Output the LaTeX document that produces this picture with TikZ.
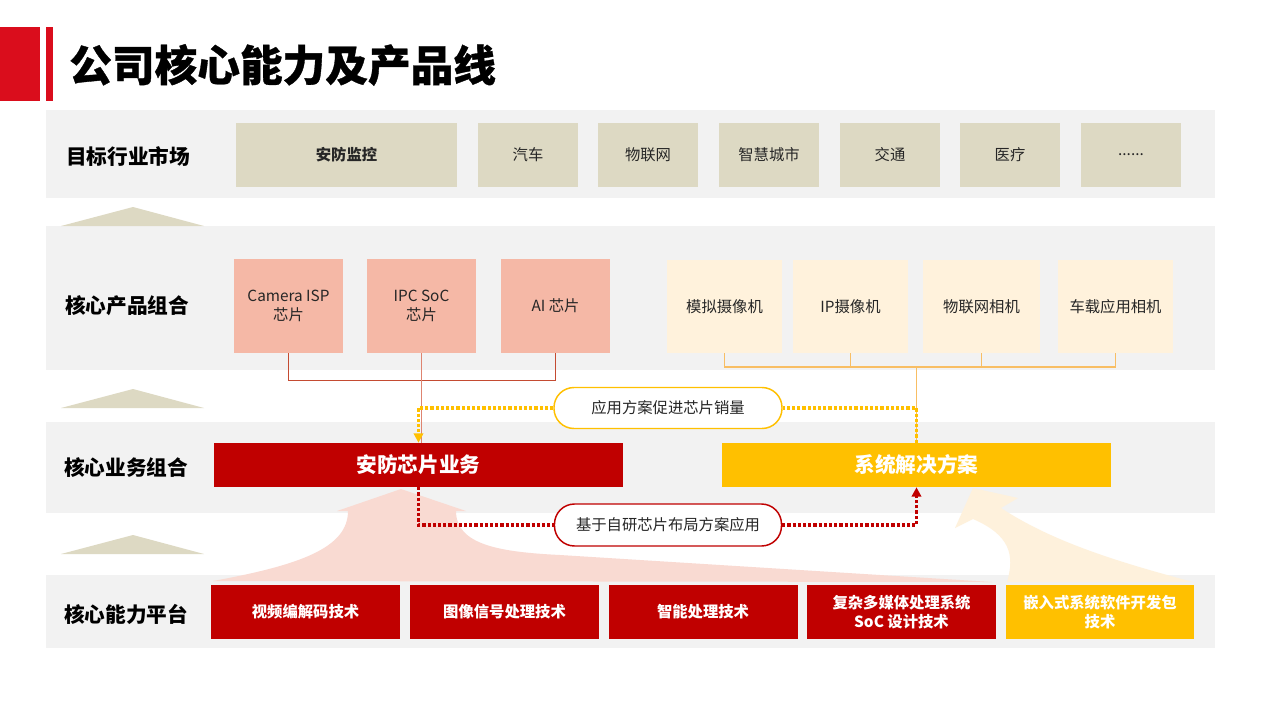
\documentclass[tikz,border=0pt]{standalone}
\usepackage{fontspec}
\setmainfont{Noto Sans CJK SC}
\newfontfamily\heavyfont{Noto Sans CJK SC}[BoldFeatures = {FakeBold = 0.8}]
\usetikzlibrary{arrows.meta}
\definecolor{titlered}{RGB}{218,13,28}
\definecolor{bandgray}{RGB}{242,242,242}
\definecolor{tan}{RGB}{221,217,195}
\definecolor{chippink}{RGB}{245,184,166}
\definecolor{camcream}{RGB}{255,242,220}
\definecolor{darkred}{RGB}{192,0,0}
\definecolor{gold}{RGB}{255,192,0}
\definecolor{txtdark}{RGB}{38,38,38}
\definecolor{chipred}{RGB}{196,75,50}
\definecolor{chipred2}{RGB}{222,132,112}
\definecolor{camorange}{RGB}{248,190,100}
\definecolor{pinkflow}{RGB}{249,218,210}
\definecolor{creamflow}{RGB}{254,241,220}
\tikzset{
	wh/.style 2 args = {minimum width = #1*0.75pt, minimum height = #2*0.75pt},
	mkt/.style = {fill = tan, text = txtdark, inner sep = 0, font = \fontsize{11.5}{14}\selectfont},
	chip/.style = {fill = chippink, text = txtdark, inner sep = 0, align = center, font = \fontsize{11.5}{14.5}\selectfont},
	cam/.style = {fill = camcream, text = txtdark, inner sep = 0, font = \fontsize{11.5}{14}\selectfont},
	biz/.style = {inner sep = 0, text = white, font = \bfseries\fontsize{15.5}{18}\selectfont},
	tech/.style = {inner sep = 0, text = white, align = center, font = \bfseries\fontsize{11.5}{14}\selectfont},
	lbl/.style = {anchor = west, inner sep = 0, font = \bfseries\fontsize{15.5}{18}\selectfont},
	pill/.style = {fill = white, rounded corners = 15pt, line width = 1.1pt, inner sep = 0, text = txtdark, font = \fontsize{11.5}{14}\selectfont},
	dotline/.style = {line width = 2.4pt, dash pattern = on 2.4pt off 1.5pt},
	headtip/.style = {-{Triangle[width = 7pt, length = 7pt]}},
}
\begin{document}
\begin{tikzpicture}[x = 0.75pt, y = -0.75pt]
	\useasboundingbox [fill = white] (0,0) rectangle (1279,719);
	\fill [titlered] (0,27) rectangle (40,101);
	\fill [titlered] (46,27) rectangle (53,101);
	\node [anchor = west, inner sep = 0, font = \heavyfont\bfseries\fontsize{32}{36}\selectfont] (title) at (69,65) {公司核心能力及产品线};
	\foreach \y/\h in {110/198, 226/370, 422/513, 575/648}
	\fill [bandgray] (46,\y) rectangle (1215,\h);
	\foreach \y in {207, 389, 535}
	\fill [tan] (61,\y+19) -- (133,\y) -- (204,\y+19) -- cycle;
	\fill [pinkflow] (213,581) .. controls (300,565) and (348,548) .. (348,511) -- (337,511) -- (401,489) -- (466,511) -- (456,511) .. controls (456,545) and (500,552) .. (560,555) -- (992,582) -- cycle;
	\fill [creamflow] (1007,582) .. controls (1015,555) and (1010,535) .. (973,519) -- (955,528) -- (973,488) -- (1018,498) -- (1001,508) .. controls (1050,540) and (1110,560) .. (1193,582) -- cycle;
	\node [lbl] (l1) at (66,157) {目标行业市场};
	\node [lbl] (l2) at (65,306) {核心产品组合};
	\node [lbl] (l3) at (64,468) {核心业务组合};
	\node [lbl] (l4) at (64,614) {核心能力平台};
	\node [mkt, wh = {221}{64}, font = \bfseries\fontsize{11.5}{14}\selectfont] (m1) at (346.5,155) {安防监控};
	\foreach \x/\n/\t in {528/m2/汽车, 648/m3/物联网, 769/m4/智慧城市, 890/m5/交通, 1010/m6/医疗}
	\node [mkt, wh = {100}{64}] (\n) at (\x,155) {\t};
	\node [mkt, wh = {100}{64}] (m7) at (1131,155) {......};
	\foreach \x/\n/\t in {288.5/isp/Camera ISP\\芯片, 421.5/ipc/IPC SoC\\芯片, 555.5/ai/AI 芯片}
	\node [chip, wh = {109}{94}] (\n) at (\x,306) {\t};
	\foreach \x/\w/\n/\t in {724.5/115/cam1/模拟摄像机, 850.5/115/cam2/IP摄像机, 981.5/117/cam3/物联网相机, 1115.5/115/cam4/车载应用相机}
	\node [cam, wh = {\w}{93}] (\n) at (\x,306.5) {\t};
	\node [biz, fill = darkred, wh = {409}{44}] (secbiz) at (418.5,465) {安防芯片业务};
	\node [biz, fill = gold, wh = {389}{44}] (sol) at (916.5,465) {系统解决方案};
	\node [pill, draw = gold, wh = {228}{41}] (promo) at (668,408) {应用方案促进芯片销量};
	\node [pill, draw = darkred, wh = {227}{42}] (selfdev) at (668,525) {基于自研芯片布局方案应用};
	\foreach \x/\n/\t in {305.5/t1/视频编解码技术, 504.5/t2/图像信号处理技术, 703/t3/智能处理技术, 901.5/t4/复杂多媒体处理系统\\SoC 设计技术}
	\node [tech, fill = darkred, wh = {189}{54}] (\n) at (\x,612) {\t};
	\node [tech, fill = gold, wh = {188}{54}] (t5) at (1100,612) {嵌入式系统软件开发包\\技术};
	\draw [chipred, line width = 1.1pt] (isp.south) -- ++(0,27) -| (ai.south);
	\draw [chipred2, line width = 1.1pt] (ipc.south) -- (ipc.south |- secbiz.north);
	\path (cam1.south) ++(0,14) coordinate (cambar);
	\draw [camorange, line width = 1.3pt] (cam1.south) -- (cambar) -| (cam4.south);
	\foreach \n in {cam2, cam3}
	\draw [camorange, line width = 1.3pt] (\n.south) -- (\n.south |- cambar);
	\draw [camorange, line width = 1.3pt] (cambar -| sol.north) -- (sol.north);
	\draw [dotline, gold] (sol.north) |- (promo.east);
	\draw [dotline, gold, headtip] (promo.west) -| (secbiz.north);
	\draw [dotline, darkred] (secbiz.south) |- (selfdev.west);
	\draw [dotline, darkred, headtip] (selfdev.east) -| (sol.south);
\end{tikzpicture}
\end{document}
